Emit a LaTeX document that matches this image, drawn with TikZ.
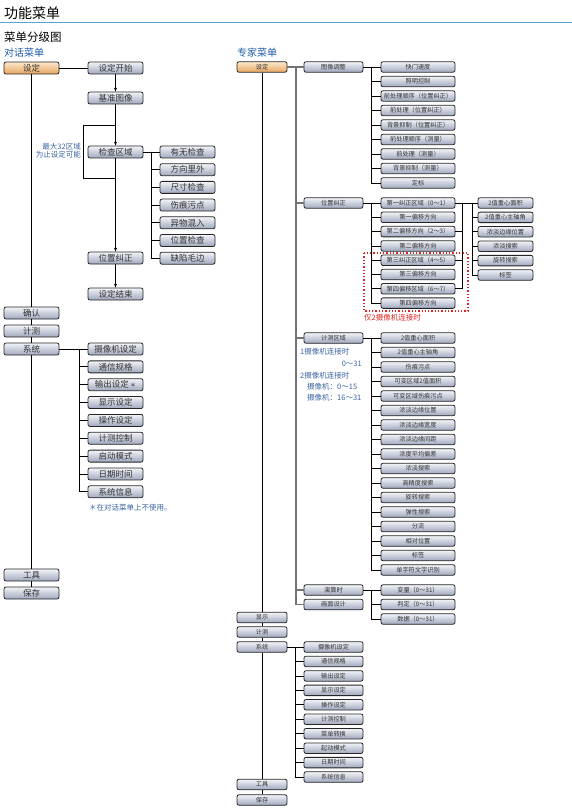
\documentclass[tikz,border=0pt]{standalone}
\usepackage{fontspec}
\setmainfont{Noto Sans CJK SC}
\usetikzlibrary{arrows.meta}
\definecolor{boxblue}{RGB}{160,168,190}
\definecolor{boxtop}{RGB}{242,244,248}
\definecolor{boxorange}{RGB}{232,165,95}
\definecolor{orangetop}{RGB}{253,232,205}
\definecolor{titleblue}{RGB}{30,90,170}
\definecolor{noteblue}{RGB}{60,100,160}
\definecolor{ruleblue}{RGB}{90,160,210}
\definecolor{markred}{RGB}{225,35,35}

\tikzset{
  menubox/.style={draw=black!85, line width=0.8pt, rounded corners=2pt, top color=boxtop, bottom color=boxblue,
    text=black!80, inner sep=0pt, minimum width=55pt, minimum height=12pt, font=\fontsize{8.5}{9}\selectfont},
  rootbox/.style={menubox, top color=orangetop, bottom color=boxorange},
  xbox/.style={menubox, minimum height=10.5pt, font=\fontsize{6.2}{7}\selectfont},
  xroot/.style={xbox, top color=orangetop, bottom color=boxorange, minimum width=50pt},
  link/.style={draw=black, line width=0.75pt},
  flow/.style={link, -{Stealth[length=4pt,width=3pt]}},
  trunk/.style={draw=black!55, line width=1.3pt},
  note/.style={text=noteblue, font=\fontsize{7.5}{8}\selectfont, inner sep=0pt},
}

\begin{document}
\begin{tikzpicture}[x=1pt,y=-1pt]
\useasboundingbox (0,0) rectangle (572,810);

% titles
\node[anchor=west, inner sep=0pt, font=\fontsize{14}{14}\selectfont] (title) at (4,13) {功能菜单};
\draw[ruleblue, line width=0.8pt] (0,22) -- (572,22);
\node[anchor=west, inner sep=0pt, font=\fontsize{11.5}{12}\selectfont] (subtitle) at (4,37) {菜单分级图};
\node[anchor=west, inner sep=0pt, text=titleblue, font=\fontsize{10}{10}\selectfont] (dlgtitle) at (4,53) {对话菜单};
\node[anchor=west, inner sep=0pt, text=titleblue, font=\fontsize{10}{10}\selectfont] (exptitle) at (237,53) {专家菜单};

% dialog menu
\node[rootbox] (dset) at (31.5,68) {设定};
\node[menubox] (dstart) at (115.5,68) {设定开始};
\node[menubox] (dbase) at (115.5,98) {基准图像};
\node[menubox] (dchk) at (115.5,152) {检查区域};
\node[menubox] (dpos) at (115.5,258) {位置纠正};
\node[menubox] (dend) at (115.5,294) {设定结束};
\foreach \t [count=\i from 0] in {有无检查,方向里外,尺寸检查,伤痕污点,异物混入,位置检查,缺陷毛边}
  \node[menubox] (dchk\i) at (187.5,152+17.7*\i) {\t};

\node[menubox] (dok) at (31.5,313) {确认};
\node[menubox] (dmeas) at (31.5,331) {计测};
\node[menubox] (dsys) at (31.5,349) {系统};
\foreach \t [count=\i from 0] in {摄像机设定,通信规格,输出设定\,{\fontsize{6}{6}\selectfont ＊},显示设定,操作设定,计测控制,启动模式,日期时间,系统信息}
  \node[menubox] (dsys\i) at (115.5,349+17.85*\i) {\t};
\node[menubox] (dtool) at (31.5,575) {工具};
\node[menubox] (dsave) at (31.5,593) {保存};

\node[note, align=right, anchor=east] (dmax) at (81,151) {最大32区域\\为止设定可能};
\node[note, anchor=west] (dstar) at (89,508) {＊在对话菜单上不使用。};

\draw[link] (dset) -- (dstart);
\draw[flow] (dstart) -- (dbase);
\draw[flow] (dbase) -- (dchk);
\draw[flow] (dchk) -- (dpos);
\draw[flow] (dpos) -- (dend);
\coordinate (dloopin) at (115.5,125);
\coordinate (dloopout) at (115.5,178);
\draw[link] (dloopout) -| (83,125) -- (dloopin);
\draw[link] (dchk) -- (dchk0);
\foreach \i in {1,...,6}
  \draw[link] ([xshift=-8pt]dchk0.west) |- (dchk\i.west);
\draw[link] (dsys) -- (dsys0);
\foreach \i in {1,...,8}
  \draw[link] ([xshift=-8pt]dsys0.west) |- (dsys\i.west);
\draw[link] (dset) -- (dok);
\draw[link] (dok) -- (dmeas);
\draw[link] (dmeas) -- (dsys);
\draw[link] (dsys) -- (dtool);
\draw[link] (dtool) -- (dsave);

% expert menu
\node[xroot] (eset) at (262,67) {设定};
\node[xbox, minimum width=59pt] (eimg) at (333.5,67) {图像调整};
\foreach \t [count=\i from 0] in {快门速度,照明控制,前处理顺序（位置纠正）,前处理（位置纠正）,背景抑制（位置纠正）,前处理顺序（测量）,前处理（测量）,背景抑制（测量）,定标}
  \node[xbox, minimum width=74pt] (eimg\i) at (418,67+14.5*\i) {\t};

\node[xbox, minimum width=59pt] (epos) at (333.5,203) {位置纠正};
\foreach \t [count=\i from 0] in {第一纠正区域（0～1）,第一偏移方向,第二偏移方向（2～3）,第二偏移方向,第三纠正区域（4～5）,第三偏移方向,第四偏移区域（6～7）,第四偏移方向}
  \node[xbox, minimum width=74pt] (epos\i) at (418,203+14.3*\i) {\t};
\foreach \t [count=\i from 0] in {2值重心面积,2值重心主轴角,浓淡边缘位置,浓淡搜索,旋转搜索,标签}
  \node[xbox] (eposv\i) at (505.5,203+14.4*\i) {\t};
\draw[markred, dotted, line width=1.3pt] (364,253) rectangle (468,311);
\node[anchor=west, inner sep=0pt, text=markred, font=\fontsize{7.5}{8}\selectfont] (etwo) at (364,318) {仅2摄像机连接时};

\node[xbox, minimum width=59pt] (emeas) at (333.5,338) {计测区域};
\foreach \t [count=\i from 0] in {2值重心面积,2值重心主轴角,伤痕污点,可变区域2值面积,可变区域伤痕污点,浓淡边缘位置,浓淡边缘宽度,浓淡边缘间距,浓度平均偏差,浓淡搜索,高精度搜索,旋转搜索,弹性搜索,分流,相对位置,标签,单字符文字识别}
  \node[xbox, minimum width=74pt] (emeas\i) at (418,338+14.5*\i) {\t};
\node[note, anchor=west] (ecam1) at (300,352) {1摄像机连接时};
\node[note, anchor=east] (ecam1r) at (362,364) {0～31};
\node[note, anchor=west] (ecam2) at (300,376) {2摄像机连接时};
\node[note, anchor=west] (ecam2a) at (307,387) {摄像机：0～15};
\node[note, anchor=west] (ecam2b) at (307,398) {摄像机：16～31};

\node[xbox, minimum width=59pt] (ecalc) at (333.5,590) {演算时};
\node[xbox, minimum width=59pt] (escr) at (333.5,604.5) {画面设计};
\foreach \t [count=\i from 0] in {变量（0～31）,判定（0～31）,数据（0～31）}
  \node[xbox, minimum width=74pt] (ecalc\i) at (418,590+14.5*\i) {\t};

\node[xroot, top color=boxtop, bottom color=boxblue] (edisp) at (262,617.5) {显示};
\node[xroot, top color=boxtop, bottom color=boxblue] (emeasure) at (262,632) {计测};
\node[xroot, top color=boxtop, bottom color=boxblue] (esys) at (262,647) {系统};
\foreach \t [count=\i from 0] in {摄像机设定,通信规格,输出设定,显示设定,操作设定,计测控制,菜单转换,起动模式,日期时间,系统信息}
  \node[xbox, minimum width=59pt] (esys\i) at (333.5,647+14.45*\i) {\t};
\node[xroot, top color=boxtop, bottom color=boxblue] (etool) at (262,784.5) {工具};
\node[xroot, top color=boxtop, bottom color=boxblue] (esave) at (262,800) {保存};

\coordinate (etrunk) at (296,67);
\draw[trunk] (eset) -- (eimg);
\draw[trunk] (etrunk) |- (escr.west);
\foreach \n in {epos,emeas,ecalc}
  \draw[trunk] (\n.west) -- (\n.west -| etrunk);
\draw[link] (eimg) -- (eimg0);
\foreach \i in {1,...,8}
  \draw[link] ([xshift=-9pt]eimg0.west) |- (eimg\i.west);
\draw[link] (epos) -- (epos0);
\foreach \i in {1,...,7}
  \draw[link] ([xshift=-9pt]epos0.west) |- (epos\i.west);
\draw[link] (epos0) -- (eposv0);
\foreach \i in {2,4,6}
  \draw[link] (epos\i.east) -| ([xshift=7pt]epos0.east);
\foreach \i in {1,...,5}
  \draw[link] ([xshift=-5pt]eposv0.west) |- (eposv\i.west);
\draw[link] (emeas) -- (emeas0);
\foreach \i in {1,...,16}
  \draw[link] ([xshift=-9pt]emeas0.west) |- (emeas\i.west);
\draw[link] (ecalc) -- (ecalc0);
\foreach \i in {1,2}
  \draw[link] ([xshift=-9pt]ecalc0.west) |- (ecalc\i.west);
\draw[link] (esys) -- (esys0);
\foreach \i in {1,...,9}
  \draw[link] ([xshift=-8pt]esys0.west) |- (esys\i.west);
\draw[link] (eset) -- (edisp);
\draw[link] (edisp) -- (emeasure);
\draw[link] (emeasure) -- (esys);
\draw[link] (esys) -- (etool);
\draw[link] (etool) -- (esave);
\end{tikzpicture}
\end{document}
